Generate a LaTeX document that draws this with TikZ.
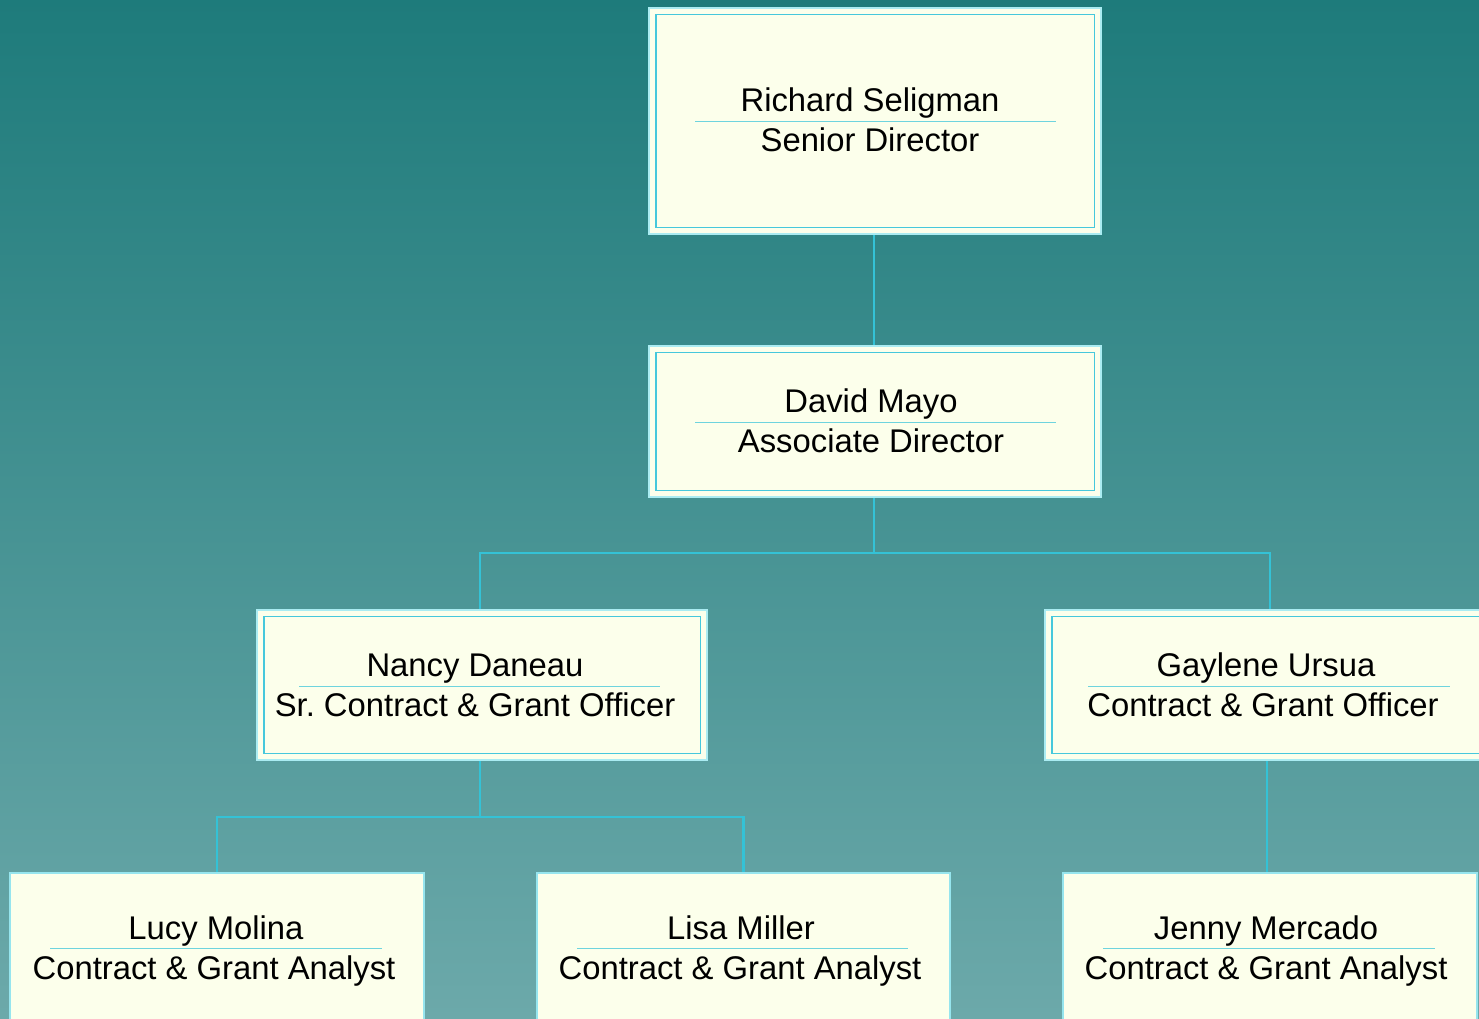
\documentclass[tikz,border=0pt]{standalone}
\usepackage{fontspec}
\setmainfont{Liberation Sans}
\frenchspacing
\definecolor{bgtop}{RGB}{30,123,123}
\definecolor{bgbot}{RGB}{108,169,170}
\definecolor{cream}{RGB}{252,255,235}
\definecolor{conn}{RGB}{52,194,214}
\definecolor{pale}{RGB}{170,236,242}
\definecolor{sepc}{RGB}{110,212,222}
\definecolor{innerc}{RGB}{70,200,220}
\tikzset{
  boxd/.style={fill=cream, draw=pale, line width=2pt, inner sep=0pt},
  boxs/.style={fill=cream, draw=pale!80!innerc, line width=2pt, inner sep=0pt},
  innerline/.style={draw=innerc, line width=1.3pt},
  sepline/.style={draw=sepc, line width=1pt},
  conline/.style={draw=conn, line width=2.2pt},
  label/.style={font=\fontsize{32.8}{38}\selectfont, anchor=base, inner sep=0pt, text=black},
}
\begin{document}
\begin{tikzpicture}[x=1pt,y=1pt]
\fill[top color=bgtop,bottom color=bgbot] (0,0) rectangle (1479,-1018);
\useasboundingbox (0,0) rectangle (1479,-1018);
\clip (0,0) rectangle (1479,-1018);

% boxes
\node[boxd, minimum width=452, minimum height=226] (rs) at (875,-121) {};
\node[boxd, minimum width=452, minimum height=151] (dm) at (875,-421.5) {};
\node[boxd, minimum width=450, minimum height=150] (nd) at (482,-685) {};
\node[boxd, minimum width=450, minimum height=150] (gu) at (1270,-685) {};
\node[boxs, minimum width=414, minimum height=150] (lm) at (217,-948) {};
\node[boxs, minimum width=413, minimum height=150] (lmi) at (743.5,-948) {};
\node[boxs, minimum width=414, minimum height=150] (jm) at (1270,-948) {};

% inner frames
\foreach \n in {rs,dm,nd,gu}{
  \draw[innerline] ([shift={(8pt,-7.5pt)}]\n.north west) rectangle ([shift={(-7.5pt,7.5pt)}]\n.south east);
}

% separators
\draw[sepline] (695,-121) -- (1056,-121);
\draw[sepline] (695,-422) -- (1056,-422);
\draw[sepline] (299,-686) -- (660,-686);
\draw[sepline] (1088,-686) -- (1450,-686);
\draw[sepline] (50,-948) -- (382,-948);
\draw[sepline] (577,-948) -- (908,-948);
\draw[sepline] (1103,-948) -- (1435,-948);

% texts
\node[label] (rsn) at (870,-111) {Richard Seligman};
\node[label] (rst) at (870,-151) {Senior Director};
\node[label] (dmn) at (871,-412) {David Mayo};
\node[label] (dmt) at (871,-452) {Associate Director};
\node[label] (ndn) at (475,-676) {Nancy Daneau};
\node[label] (ndt) at (475,-716) {Sr. Contract \& Grant Officer};
\node[label] (gun) at (1266,-676) {Gaylene Ursua};
\node[label] (gut) at (1263,-716) {Contract \& Grant Officer};
\node[label] (lmn) at (216,-939) {Lucy Molina};
\node[label] (lmt) at (214,-979) {Contract \& Grant Analyst};
\node[label] (lin) at (741,-939) {Lisa Miller};
\node[label] (lit) at (740,-979) {Contract \& Grant Analyst};
\node[label] (jmn) at (1266,-939) {Jenny Mercado};
\node[label] (jmt) at (1266,-979) {Contract \& Grant Analyst};

% connectors
\coordinate (j1) at (874,-553);
\coordinate (j2) at (480,-817);
\draw[conline] (rs.south -| 874,0) -- (dm.north -| 874,0);
\draw[conline] (dm.south -| 874,0) -- (j1);
\draw[conline] (nd.north -| 480,0) |- (j1) -| (gu.north);
\draw[conline] (nd.south -| 480,0) -- (j2);
\draw[conline] (lm.north) |- (j2) -| (lmi.north);
\draw[conline] (gu.south -| 1267,0) -- (jm.north -| 1267,0);
\end{tikzpicture}
\end{document}
